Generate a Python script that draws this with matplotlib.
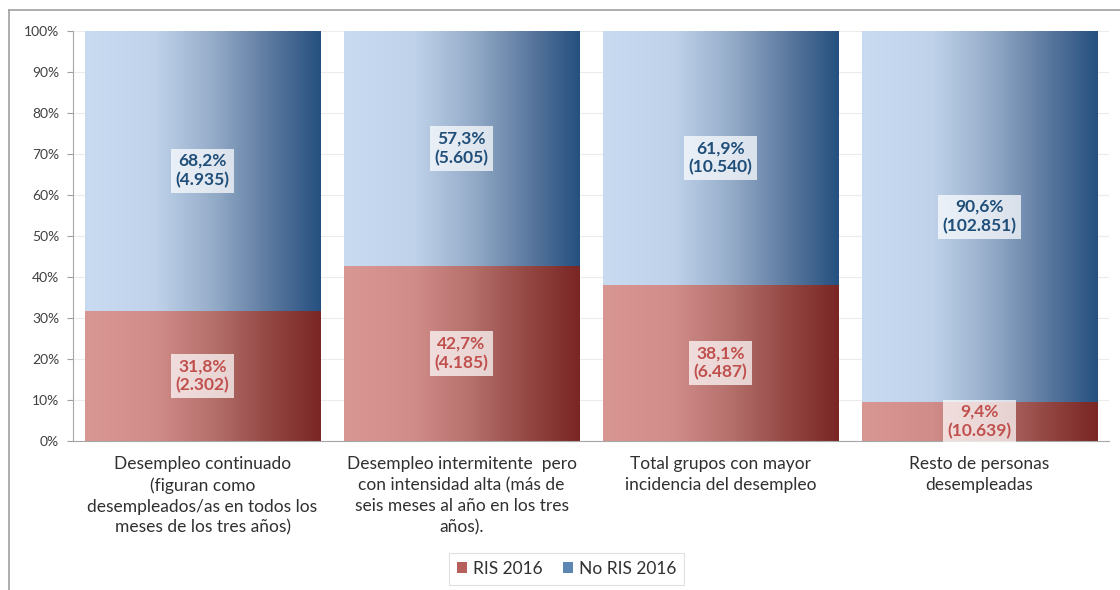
import numpy as np
import matplotlib.pyplot as plt
from matplotlib.colors import LinearSegmentedColormap
from matplotlib.patches import Patch
from matplotlib.lines import Line2D

plt.rcParams['font.family'] = ['Lato', 'DejaVu Sans']

categories = [
    "Desempleo continuado\n(figuran como\ndesempleados/as en todos los\nmeses de los tres años)",
    "Desempleo intermitente  pero\ncon intensidad alta (más de\nseis meses al año en los tres\naños).",
    "Total grupos con mayor\nincidencia del desempleo",
    "Resto de personas\ndesempleadas",
]
ris_pct = [31.8, 42.7, 38.1, 9.4]
ris_count = ["2.302", "4.185", "6.487", "10.639"]
noris_pct = [68.2, 57.3, 61.9, 90.6]
noris_count = ["4.935", "5.605", "10.540", "102.851"]
series_names = ["RIS 2016", "No RIS 2016"]

blue_cmap = LinearSegmentedColormap.from_list(
    "blue_grad",
    [(0.0, "#c8dbf1"), (0.3, "#bfd2ea"), (0.55, "#94abc8"),
     (0.8, "#58769d"), (1.0, "#25507f")])
red_cmap = LinearSegmentedColormap.from_list(
    "red_grad",
    [(0.0, "#d99794"), (0.3, "#d08c89"), (0.55, "#b46f6b"),
     (0.8, "#914440"), (1.0, "#7a2624")])

fig = plt.figure(figsize=(11.2, 5.9), dpi=100)
ax = fig.add_axes([0.0652, 0.2525, 0.925, 0.695])

x = np.arange(len(categories))
width = 0.91
red_bars = ax.bar(x, ris_pct, width, color="none", edgecolor="none", zorder=2)
blue_bars = ax.bar(x, noris_pct, width, bottom=ris_pct, color="none",
                   edgecolor="none", zorder=2)

grad = np.linspace(0, 1, 256).reshape(1, -1)
for bars, cmap in ((red_bars, red_cmap), (blue_bars, blue_cmap)):
    for b in bars:
        x0, y0 = b.get_x(), b.get_y()
        ax.imshow(grad, cmap=cmap, aspect="auto", zorder=2,
                  extent=(x0, x0 + b.get_width(), y0, y0 + b.get_height()),
                  interpolation="bilinear")

label_style = dict(ha="center", va="center", fontsize=12.5, fontweight="bold",
                   linespacing=1.25, zorder=5)
box = dict(boxstyle="square,pad=0.25", facecolor="white", alpha=0.72,
           edgecolor="none")
for i in range(len(categories)):
    ax.text(x[i], ris_pct[i] / 2,
            f"{ris_pct[i]:.1f}%\n({ris_count[i]})".replace(".", ",", 1),
            color="#c0504d", bbox=box, **label_style)
    ax.text(x[i], ris_pct[i] + noris_pct[i] / 2,
            f"{noris_pct[i]:.1f}%\n({noris_count[i]})".replace(".", ",", 1),
            color="#1f4e79", bbox=box, **label_style)

ax.set_xlim(-0.5, len(categories) - 0.5)
ax.set_ylim(0, 100)
ax.set_yticks(np.arange(0, 101, 10))
ax.set_yticklabels([f"{v}%" for v in range(0, 101, 10)], fontsize=10, color="#404040")
ax.set_xticks(x)
ax.set_xticklabels(categories, fontsize=12.5, color="#303030", linespacing=1.37)
ax.tick_params(axis="x", length=0, pad=11)
ax.tick_params(axis="y", length=4, color="#a0a0a0", pad=6)
ax.yaxis.grid(True, color="#ececec", linewidth=0.8, zorder=0)
ax.set_axisbelow(True)
for side in ("top", "right"):
    ax.spines[side].set_visible(False)
ax.spines["left"].set_color("#a6a6a6")
ax.spines["bottom"].set_color("#a6a6a6")

handles = [Patch(facecolor="#b5605c", edgecolor="none"),
           Patch(facecolor="#5e86b3", edgecolor="none")]
leg = fig.legend(handles, series_names, loc="center", bbox_to_anchor=(0.506, 0.036),
                 ncol=2, fontsize=12.5, frameon=True, fancybox=False,
                 handlelength=0.55, handleheight=0.55, handletextpad=0.35,
                 columnspacing=1.2, borderpad=0.45)
leg.get_frame().set_edgecolor("#d9d9d9")
leg.get_frame().set_linewidth(0.8)
for t in leg.get_texts():
    t.set_color("#303030")

# outer chart border (top and left edges)
fig.add_artist(Line2D([9 / 1120, 1.0], [1 - 10 / 590, 1 - 10 / 590],
                      color="#a0a0a0", linewidth=1.2))
fig.add_artist(Line2D([9 / 1120, 9 / 1120], [0.0, 1 - 10 / 590],
                      color="#a0a0a0", linewidth=1.2))

fig.savefig("out.png", dpi=100)
